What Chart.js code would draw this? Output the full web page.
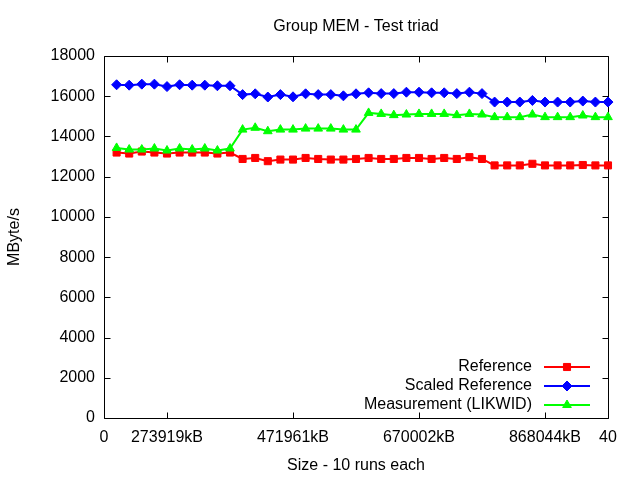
<!DOCTYPE html>
<html>
<head>
<meta charset="utf-8">
<script src="https://cdn.jsdelivr.net/npm/chart.js@4"></script>
<style>
  html, body { margin: 0; padding: 0; background: #fff; }
  #wrap { width: 640px; height: 480px; }
</style>
</head>
<body>
<div id="wrap"><canvas id="chart" width="640" height="480"></canvas></div>
<script>
// run index, 10 runs per size
const runIndex = [1, 2, 3, 4, 5, 6, 7, 8, 9, 10,
  11, 12, 13, 14, 15, 16, 17, 18, 19, 20,
  21, 22, 23, 24, 25, 26, 27, 28, 29, 30,
  31, 32, 33, 34, 35, 36, 37, 38, 39, 40];

const reference = [13200, 13150, 13250, 13200, 13150, 13200, 13200, 13200, 13150, 13200,
  12880, 12930, 12770, 12850, 12850, 12930, 12880, 12850, 12850, 12880,
  12930, 12880, 12880, 12930, 12930, 12880, 12930, 12880, 12970, 12880,
  12560, 12560, 12560, 12640, 12560, 12560, 12560, 12580, 12560, 12560];

const scaledReference = [16570, 16550, 16600, 16600, 16480, 16570, 16550, 16550, 16520, 16520,
  16080, 16120, 15960, 16080, 15970, 16120, 16080, 16080, 16020, 16120,
  16170, 16130, 16130, 16200, 16200, 16170, 16170, 16130, 16200, 16130,
  15710, 15710, 15710, 15790, 15710, 15710, 15710, 15760, 15710, 15710];

const measurement = [13430, 13350, 13350, 13400, 13300, 13400, 13350, 13400, 13300, 13400,
  14340, 14430, 14260, 14340, 14340, 14390, 14390, 14390, 14340, 14340,
  15170, 15120, 15060, 15090, 15120, 15120, 15120, 15060, 15120, 15090,
  14960, 14960, 14960, 15090, 14960, 14960, 14960, 15040, 14960, 14960];

const xTickValues = [0, 5, 15, 25, 35, 40];
const xTickLabels = ['0', '273919kB', '471961kB', '670002kB', '868044kB', '40'];

const FONT = 'Liberation Sans, Arial, sans-serif';
const FONT_SIZE = 16;
Chart.defaults.font.family = FONT;
Chart.defaults.font.size = FONT_SIZE;
Chart.defaults.color = '#000';

function toPoints(values) {
  return values.map((v, i) => ({ x: runIndex[i], y: v }));
}

// gnuplot style frame with inward ticks on all four sides
const framePlugin = {
  id: 'frame',
  beforeDatasetsDraw(chart) {
    const { ctx, chartArea: a, scales } = chart;
    const L = Math.round(a.left) + 0.5, R = Math.round(a.right) + 0.5;
    const T = Math.round(a.top) + 0.5, B = Math.round(a.bottom) + 0.5;
    ctx.save();
    ctx.strokeStyle = '#000';
    ctx.lineWidth = 1;
    ctx.beginPath();
    ctx.rect(L, T, R - L, B - T);
    scales.y.ticks.forEach(t => {
      const y = Math.round(scales.y.getPixelForValue(t.value)) + 0.5;
      ctx.moveTo(L, y); ctx.lineTo(L + 6, y);
      ctx.moveTo(R, y); ctx.lineTo(R - 6, y);
    });
    scales.x.ticks.forEach(t => {
      const x = Math.round(scales.x.getPixelForValue(t.value)) + 0.5;
      ctx.moveTo(x, B); ctx.lineTo(x, B - 6);
      ctx.moveTo(x, T); ctx.lineTo(x, T + 6);
    });
    ctx.stroke();
    ctx.restore();
  }
};

const titlePlugin = {
  id: 'plotTitle',
  afterDraw(chart) {
    const { ctx, chartArea: a } = chart;
    ctx.save();
    ctx.font = FONT_SIZE + 'px ' + FONT;
    ctx.fillStyle = '#000';
    ctx.textAlign = 'center';
    ctx.textBaseline = 'middle';
    ctx.fillText('Group MEM - Test triad', (a.left + a.right) / 2, 27);
    ctx.restore();
  }
};

// key in the bottom right corner, text left of the sample
const keyPlugin = {
  id: 'key',
  afterDatasetsDraw(chart) {
    const { ctx, chartArea: a } = chart;
    const textRight = a.right - 76;
    const lineL = a.right - 64, lineR = a.right - 18;
    ctx.save();
    ctx.font = FONT_SIZE + 'px ' + FONT;
    ctx.textAlign = 'right';
    ctx.textBaseline = 'middle';
    chart.data.datasets.forEach((ds, i) => {
      const y = a.bottom - 51 + i * 19;
      ctx.fillStyle = '#000';
      ctx.fillText(ds.label, textRight, y);
      ctx.strokeStyle = ds.borderColor;
      ctx.lineWidth = ds.borderWidth;
      ctx.beginPath();
      ctx.moveTo(lineL, y); ctx.lineTo(lineR, y);
      ctx.stroke();
      ctx.fillStyle = ds.pointBackgroundColor;
      ctx.strokeStyle = ds.pointBorderColor;
      ctx.lineWidth = ds.pointBorderWidth;
      Chart.helpers.drawPoint(ctx, {
        pointStyle: ds.pointStyle, radius: ds.pointRadius, rotation: 0, borderWidth: ds.pointBorderWidth
      }, (lineL + lineR) / 2, y);
    });
    ctx.restore();
  }
};

function series(label, values, color, style, radius, order) {
  return {
    label,
    data: toPoints(values),
    borderColor: color,
    backgroundColor: color,
    pointBackgroundColor: color,
    pointBorderColor: color,
    pointBorderWidth: 1,
    pointStyle: style,
    pointRadius: radius,
    borderWidth: 2,
    tension: 0,
    clip: false,
    order
  };
}

new Chart(document.getElementById('chart'), {
  type: 'line',
  data: {
    datasets: [
      series('Reference', reference, '#ff0000', 'rect', 5, 3),
      series('Scaled Reference', scaledReference, '#0000ff', 'rectRot', 5, 2),
      series('Measurement (LIKWID)', measurement, '#00ff00', 'triangle', 5, 1)
    ]
  },
  options: {
    responsive: false,
    animation: false,
    layout: { padding: { top: 56, right: 32, left: 0, bottom: 0 } },
    plugins: {
      legend: { display: false },
      title: { display: false },
      tooltip: { enabled: false }
    },
    scales: {
      x: {
        type: 'linear',
        min: 0,
        max: 40,
        grid: { display: false, drawTicks: false },
        border: { display: false },
        afterBuildTicks(scale) {
          scale.ticks = xTickValues.map(v => ({ value: v }));
        },
        afterFit(scale) { scale.height = 62; },
        ticks: {
          padding: 10,
          maxRotation: 0,
          autoSkip: false,
          callback: v => xTickLabels[xTickValues.indexOf(v)]
        },
        title: { display: true, text: 'Size - 10 runs each', padding: { top: 0, bottom: 5 } }
      },
      y: {
        min: 0,
        max: 18000,
        grid: { display: false, drawTicks: false },
        border: { display: false },
        afterFit(scale) { scale.width = 104; },
        ticks: { stepSize: 2000, padding: 9, callback: v => String(v) },
        title: { display: true, text: 'MByte/s', padding: { top: 5, bottom: 0 } }
      }
    }
  },
  plugins: [framePlugin, titlePlugin, keyPlugin]
});
</script>
</body>
</html>
